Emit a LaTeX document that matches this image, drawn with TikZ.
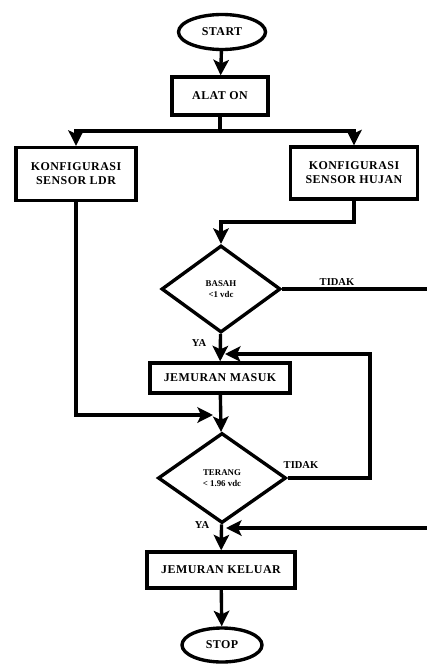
\documentclass[tikz,border=0pt]{standalone}
\usepackage{fontspec}
\setmainfont{Liberation Serif}
\usetikzlibrary{positioning}
\usetikzlibrary{calc}
\usetikzlibrary{arrows.meta}
\usetikzlibrary{shapes}

\begin{document}
\begin{tikzpicture} [
    x=0.025cm, y=-0.025cm,          % one unit = one pixel of the sketch
    ]
% -------------------------------------------------
\tikzset{
  base/.style={draw, line width=2.4pt, align=center, inner sep=0pt,
               font=\fontsize{8.5}{10}\selectfont\bfseries\addfontfeatures{LetterSpace=4}},
  rect/.style={base, rectangle},
  term/.style={base, ellipse},
  decision/.style={base, diamond, font=\fontsize{6.3}{7.3}\selectfont\bfseries},
  line/.style={draw, line width=2.4pt, -{Stealth[length=11pt, width=11pt, inset=2.5pt]}},
  wire/.style={draw, line width=2.4pt},
  tag/.style={font=\fontsize{7.5}{9}\selectfont\bfseries},
}
    \useasboundingbox (0,0) rectangle (427,664);

    \node [term, minimum width=2.175cm, minimum height=0.875cm] (start) at (222,32) {START};
    \node [rect, minimum width=2.4cm, minimum height=0.95cm] (alat) at (220,96) {ALAT ON};

    \node [rect, minimum width=3.0cm, minimum height=1.325cm] (ldr) at (76,174) {KONFIGURASI\\SENSOR LDR};
    \node [rect, minimum width=3.175cm, minimum height=1.3cm] (hujan) at (354,173) {KONFIGURASI\\SENSOR HUJAN};

    \node [decision, minimum width=2.975cm, minimum height=2.175cm] (basah) at (221,289) {BASAH\\<1 vdc};
    \node [rect, minimum width=3.5cm, minimum height=0.75cm] (masuk) at (220,378) {JEMURAN MASUK};
    \node [decision, minimum width=3.2cm, minimum height=2.25cm] (terang) at (222,478) {TERANG\\< 1.96 vdc};
    \node [rect, minimum width=3.7cm, minimum height=0.9cm] (keluar) at (221,570) {JEMURAN KELUAR};
    \node [term, minimum width=2.0cm, minimum height=0.85cm] (stop) at (222,645) {STOP};

    % free ends of the connectors
    \coordinate (split) at (220,131);
    \coordinate (jog) at (221,222);
    \coordinate (loopA) at (370,354);
    \coordinate (inA) at (225,354);
    \coordinate (inL) at (213,415);
    \coordinate (edgeA) at (434,289);
    \coordinate (edgeB) at (434,528);
    \coordinate (inB) at (226,528);

    \path [line] (start) -- (alat);
    \path [wire] (alat) -- (split);
    \path [line] (split) -| (ldr);
    \path [line] (split) -| (hujan);
    \path [line] (hujan) |- (jog) -- (basah);
    \path [line] (basah) -- (masuk);
    \path [line] (masuk) -- (terang);
    \path [line] (terang) -- (keluar);
    \path [line] (keluar) -- (stop);
    \path [line] (ldr) |- (inL);
    \path [line] (terang.east) -| (loopA) -- (inA);
    \path [line] (basah.east) -- (edgeA) -- (edgeB) -- (inB);

    \node [tag] (tidak1) at (337,282) {TIDAK};
    \node [tag] (tidak2) at (301,465) {TIDAK};
    \node [tag] (ya1) at (199,343) {YA};
    \node [tag] (ya2) at (202,525) {YA};

\end{tikzpicture}
\end{document}
